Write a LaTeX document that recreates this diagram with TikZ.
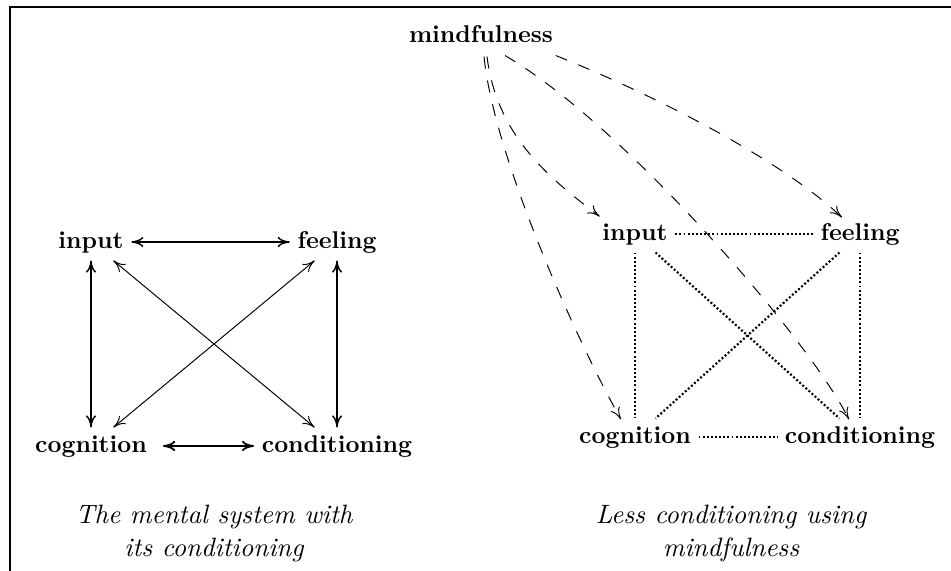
\documentclass[tikz,border=0pt]{standalone}
\usetikzlibrary{arrows.meta,calc}
\begin{document}
\begin{tikzpicture}[x=0.41237pt,y=-0.41237pt,
  lbl/.style={font=\bfseries, text height=6.94pt, text depth=1.94pt, inner sep=3pt},
  arr/.style={{To[length=5pt,width=4.2pt]}-{To[length=5pt,width=4.2pt]}, line width=0.4pt},
  arrhv/.style={arr, line width=0.6pt},
  dots/.style={line width=0.9pt, dash pattern=on 0.8pt off 0.9pt},
  dsh/.style={-{To[length=5pt,width=4.2pt]}, line width=0.4pt, dash pattern=on 5pt off 5pt},
  captxt/.style={font=\fontsize{10.95}{13.6}\selectfont\itshape, anchor=base, inner sep=0pt}]
\useasboundingbox (0,0) rectangle (951,571);
\clip (0,0) rectangle (951,571);
\draw[line width=0.82pt] (10.3,590) -- (10.3,6.7) -- (970,6.7);

% left diagram
\node[lbl] (li) at (91,242) {input};
\node[lbl] (lf) at (337,242) {feeling};
\node[lbl] (lc) at (91,446) {cognition};
\node[lbl] (lk) at (337,446) {conditioning};
\draw[arrhv] (li) -- (lf);
\draw[arrhv] (li) -- (lc);
\draw[arrhv] (lf) -- (lk);
\draw[arr] (li) -- (lk);
\draw[arr] (lf) -- (lc);
\draw[arrhv, line width=0.75pt, shorten <=3.5pt] (lc) -- (lk);

% right diagram
\node[lbl] (m) at (481,36) {mindfulness};
\node[lbl] (ri) at (635,234) {input};
\node[lbl] (rf) at (860,234) {feeling};
\node[lbl] (rc) at (635,437) {cognition};
\node[lbl] (rk) at (860,437) {conditioning};
\draw[dots] (ri) -- (rf);
\draw[dots] (ri) -- (rc);
\draw[dots] (rf) -- (rk);
\draw[dots] (ri) -- (rk);
\draw[dots] (rf) -- (rc);
\draw[dots] (rc) -- (rk);

\draw[dsh] ($(m.south)+(6,2)$) .. controls +(10,80) and +(-50,-38) .. ($(ri.north west)+(5,1)$);
\draw[dsh] ($(m.south east)+(-5,1)$) .. controls +(100,40) and +(-60,-57) .. ($(rf.north)+(-18,2)$);
\draw[dsh] ($(m.south)+(3,2)$) .. controls +(10,100) and +(-45,-80) .. ($(rc.north)+(-14,1)$);
\draw[dsh] ($(m.south)+(24,1)$) .. controls +(120,70) and +(-40,-80) .. ($(rk.north)+(-11,1)$);

% captions
\node[captxt] (c1a) at (214,524) {The mental system with};
\node[captxt] (c1b) at (214,557) {its conditioning};
\node[captxt] (c2a) at (731,524) {Less conditioning using};
\node[captxt] (c2b) at (731,557) {mindfulness};
\end{tikzpicture}
\end{document}
